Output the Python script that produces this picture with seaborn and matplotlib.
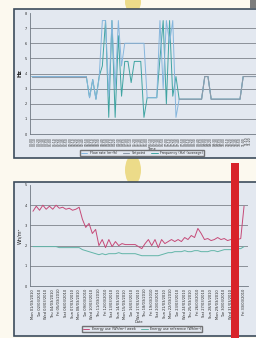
import numpy as np
import pandas as pd
import seaborn as sns
import matplotlib.pyplot as plt
from matplotlib.patches import Rectangle, Ellipse

# ---- top chart data ----
flow = [3.8] * 18 + [2.4, 3.6, 2.3, 3.7,
        7.5, 7.5, 2.5, 7.5, 3.0, 7.5, 4.5,
        6.0, 6.0, 6.0, 6.0, 6.0, 6.0, 6.0,
        2.4, 2.4, 2.4, 2.4,
        7.5, 3.0, 7.5, 6.0, 7.5, 1.1] + [2.3] * 8 + [3.8, 3.8] + [2.3] * 10 + [3.8] * 10
freq = [3.8] * 18 + [2.4, 3.6, 2.3, 3.8,
        4.5, 7.5, 1.1, 7.5, 1.1, 6.5, 2.5,
        4.8, 4.8, 3.4, 4.8, 4.8, 4.8, 1.1,
        2.4, 2.4, 2.4, 2.4,
        5.0, 7.5, 2.0, 7.5, 2.5, 3.8] + [2.3] * 8 + [3.8, 3.8] + [2.3] * 10 + [3.8] * 10
setpoint_a = [3.8] * 18
setpoint_b = [2.3] * 8 + [3.8, 3.8] + [2.3] * 10 + [3.8] * 10
top_labels = [f"{h:02d}:{m:02d}" for h in range(0, 13) for m in (0, 10, 20, 30, 40, 50)][:len(flow)]
top_legend = ["Flow rate (m³/h)", "Setpoint", "Frequency (Hz) (average)"]

# ---- bottom chart data ----
energy = [3.7, 3.95, 3.75, 4.0, 3.8, 3.95, 3.8, 4.0, 3.85, 3.9, 3.8, 3.85, 3.75, 3.8, 3.9,
          3.3, 2.9, 3.1, 2.6, 2.8, 2.0,
          2.3, 1.9, 2.3, 1.95, 2.2, 2.0, 2.1, 2.05, 2.05, 2.05, 2.05, 1.95, 1.85, 2.1,
          2.3, 2.0, 2.3, 1.9, 2.3, 2.1, 2.2, 2.3, 2.2, 2.3, 2.2, 2.4, 2.3, 2.5, 2.4,
          2.85, 2.6, 2.3, 2.35, 2.25, 2.3, 2.4, 2.3, 2.35, 2.25, 2.3, 2.4, 2.3, 2.35, 3.95]
baseline = [1.95, 1.95, 1.95, 1.95, 1.95, 1.95, 1.95, 1.95, 1.9, 1.9, 1.9, 1.9, 1.9, 1.9, 1.9,
            1.8, 1.75, 1.7, 1.65, 1.6, 1.55,
            1.6, 1.55, 1.6, 1.6, 1.6, 1.65, 1.6, 1.6, 1.6, 1.6, 1.6, 1.55, 1.5, 1.5,
            1.5, 1.5, 1.5, 1.5, 1.55, 1.6, 1.65, 1.65, 1.7, 1.7, 1.7, 1.75, 1.7, 1.7, 1.75,
            1.75, 1.7, 1.7, 1.7, 1.75, 1.75, 1.7, 1.75, 1.8, 1.8, 1.8, 1.8, 1.85, 1.85, 1.95]
days = ["Mon", "Tue", "Wed", "Thu", "Fri", "Sat", "Sun"]
bottom_labels = [f"{days[d % 7]} {d + 1:02d}/03/2010" for d in range(33)]
bottom_legend = ["Energy use (Wh/m²) week", "Energy use reference (Wh/m²)"]

sns.set_style("white")
plt.rcParams['font.family'] = ['DejaVu Sans']

fig = plt.figure(figsize=(2.56, 3.38), dpi=100, facecolor="#fcf9ef")

def px_rect(x0, y0, x1, y1, **kw):
    # rectangle given in pixel coords (origin top-left)
    return Rectangle((x0 / 256, 1 - y1 / 338), (x1 - x0) / 256, (y1 - y0) / 338,
                     transform=fig.transFigure, **kw)

panel = "#e3e8f0"
border = "#3d4c5c"
# page decorations (behind the axes)
fig.patches.append(Ellipse((133 / 256, 1 - 2 / 338), 16 / 256, 22 / 338, transform=fig.transFigure,
                           facecolor="#ead677", edgecolor="none", alpha=0.85, zorder=-2))
fig.patches.append(Ellipse((133 / 256, 1 - 170 / 338), 16 / 256, 30 / 338, transform=fig.transFigure,
                           facecolor="#ead677", edgecolor="none", alpha=0.85, zorder=-2))
fig.patches.append(px_rect(250, 0, 258, 8, facecolor="#7d7d7d", edgecolor="none", zorder=-2))
fig.patches.append(px_rect(14, 9, 262, 158, facecolor=panel, edgecolor=border, lw=1.2, zorder=-1))
fig.patches.append(px_rect(14, 182, 262, 336, facecolor=panel, edgecolor=border, lw=1.2, zorder=-1))

grid_kw = dict(color="#8c9199", lw=0.7)

# ---------- top chart ----------
ax1 = fig.add_axes([30 / 256, 1 - 134 / 338, 242 / 256, 121 / 338])
ax1.set_facecolor(panel)
x_top = np.arange(len(flow))
sns.lineplot(x=x_top, y=freq, ax=ax1, color="#3fa4a2", lw=0.7, label=top_legend[2])
sns.lineplot(x=x_top, y=flow, ax=ax1, color="#86b6dd", lw=0.7, label=top_legend[0])
sns.lineplot(x=np.arange(len(setpoint_a)), y=setpoint_a, ax=ax1, color="#8d9aa8", lw=0.8,
             label=top_legend[1])
sns.lineplot(x=np.arange(len(flow) - len(setpoint_b), len(flow)), y=setpoint_b, ax=ax1,
             color="#8d9aa8", lw=0.8)
ax1.set_xlim(-0.6, 75)
ax1.set_ylim(0, 8)
ax1.set_yticks(range(0, 9))
ax1.set_yticklabels([str(v) for v in range(0, 9)], fontsize=2.5)
for v in range(1, 8):
    ax1.axhline(v, zorder=0, **grid_kw)
ax1.set_xticks(x_top)
# labels past the page edge are not readable in the reference
ax1.set_xticklabels([t if i <= 68 else "" for i, t in enumerate(top_labels)], rotation=90, fontsize=2.2)
ax1.tick_params(length=1, pad=1, width=0.4)
ax1.set_xlabel("Time", fontsize=2.5, labelpad=1)
ax1.set_ylabel("Hz", fontsize=4, fontweight="bold", labelpad=2)
for s in ("top", "right"):
    ax1.spines[s].set_visible(False)
for s in ("left", "bottom"):
    ax1.spines[s].set_color("#6f7782")
    ax1.spines[s].set_linewidth(0.6)
h, l = ax1.get_legend_handles_labels()
ax1.legend_.remove()
order = [l.index(t) for t in top_legend]
fig.legend([h[i] for i in order], top_legend, loc="center", bbox_to_anchor=(142 / 256, 1 - 153 / 338),
           ncol=3, fontsize=2.4, frameon=True, edgecolor="#555", fancybox=False,
           handlelength=2, borderpad=0.3, columnspacing=1.5, facecolor=panel)

# ---------- bottom chart ----------
ax2 = fig.add_axes([30 / 256, 1 - 286 / 338, 218 / 256, 101 / 338])
ax2.set_facecolor(panel)
x_bot = np.arange(len(energy))
sns.lineplot(x=x_bot, y=baseline, ax=ax2, color="#62b5a8", lw=0.7, label=bottom_legend[1])
sns.lineplot(x=x_bot, y=energy, ax=ax2, color="#c64a78", lw=0.7, label=bottom_legend[0])
ax2.set_xlim(-0.9, 65.2)
ax2.set_ylim(0, 5)
ax2.set_yticks(range(0, 6))
ax2.set_yticklabels([str(v) for v in range(0, 6)], fontsize=2.5)
for v in range(1, 5):
    ax2.axhline(v, zorder=0, **grid_kw)
ax2.set_xticks(np.arange(0, 65, 2))
ax2.set_xticklabels(bottom_labels, rotation=90, fontsize=2.6)
ax2.tick_params(length=1, pad=1, width=0.4)
ax2.set_xlabel("Date", fontsize=2.5, labelpad=1)
ax2.set_ylabel("Wh/m²", fontsize=3.5, labelpad=2)
for s in ("top", "right"):
    ax2.spines[s].set_visible(False)
for s in ("left", "bottom"):
    ax2.spines[s].set_color("#6f7782")
    ax2.spines[s].set_linewidth(0.6)
h2, l2 = ax2.get_legend_handles_labels()
ax2.legend_.remove()
fig.legend([h2[1], h2[0]], bottom_legend, loc="center", bbox_to_anchor=(142 / 256, 1 - 329 / 338),
           ncol=2, fontsize=2.4, frameon=True, edgecolor="#555", fancybox=False,
           handlelength=2, borderpad=0.3, columnspacing=1.5, facecolor=panel)

# red marker bar across the lower chart
fig.add_artist(px_rect(231, 163, 239, 340, facecolor="#d8232a", edgecolor="none", zorder=10))

fig.savefig("out.png", dpi=100, facecolor=fig.get_facecolor())
